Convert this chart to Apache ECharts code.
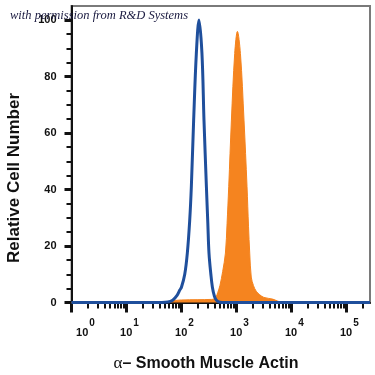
<!DOCTYPE html>
<html>
<head>
<meta charset="utf-8">
<script src="https://cdn.jsdelivr.net/npm/echarts@6/dist/echarts.min.js"></script>
<style>
  html, body { margin: 0; padding: 0; background: #fff; }
  #main { width: 375px; height: 375px; }
</style>
</head>
<body>
<div id="main"></div>
<script>
// x values are log10 of fluorescence intensity
var isoX = [0, 1.5, 1.75, 1.84, 1.92, 1.97, 2.0, 2.06, 2.107, 2.15, 2.18, 2.222, 2.271, 2.319, 2.373, 2.41, 2.454, 2.48, 2.501, 2.535, 2.563, 2.6, 2.636, 2.7, 2.8, 5.43];
var isoY = [0, 0, 0.2, 0.8, 2.5, 4.4, 5.4, 10, 17.5, 29, 41, 64.6, 88.2, 100, 88.2, 64.6, 41, 28, 17.5, 10, 5.4, 2.2, 0.8, 0.1, 0, 0];

var smaX = [0, 1.7, 1.8, 2.0, 2.3, 2.55, 2.6, 2.63, 2.66, 2.7, 2.75, 2.8, 2.83, 2.86, 2.909, 2.969, 3.018, 3.073, 3.138, 3.193, 3.22, 3.242, 3.27, 3.31, 3.36, 3.42, 3.5, 3.66, 3.75, 3.85, 5.43];
var smaY = [0, 0, 0.5, 0.9, 1.0, 1.1, 1.3, 2, 3.5, 6, 11, 17.5, 28, 41, 64.6, 88.2, 96, 88.2, 64.6, 41, 27, 17.5, 9, 6, 4, 2.8, 1.8, 1.2, 0.5, 0, 0];

var xMajor = [0, 1, 2, 3, 4, 5];
var yMajor = [0, 20, 40, 60, 80, 100];

function pairs(xs, ys) {
	var res = [];
	for (var i = 0; i < xs.length; i++) {
		res.push([xs[i], ys[i]]);
	}
	return res;
}

// log minor ticks at 2..9 of each decade
var xMinor = [];
for (var d = 0; d <= 5; d++) {
	for (var k = 2; k <= 9; k++) {
		var v = d + Math.log10(k);
		if (v <= 5.43) xMinor.push(v);
	}
}
var yMinor = [];
for (var t = 5; t < 100; t += 5) {
	if (t % 20 !== 0) yMinor.push(t);
}

var chart = echarts.init(document.getElementById('main'));
chart.setOption({
	animation: false,
	grid: {
		left: 71.5,
		right: 5,
		top: 6,
		bottom: 72.5,
		show: true,
		borderColor: '#7a7a7a',
		borderWidth: 2
	},
	xAxis: [{
		type: 'value',
		min: 0,
		max: 5.43,
		splitLine: { show: false },
		axisLine: { lineStyle: { color: '#111', width: 2 } },
		axisTick: { customValues: xMajor, length: 10, lineStyle: { color: '#111', width: 3 } },
		axisLabel: {
			customValues: xMajor,
			margin: 16,
			formatter: function (val) {
				var p = Math.round(val);
				if (p === 0) return '{f|10}{s|0}';
				return '{b|10}{s|' + p + '}';
			},
			rich: {
				b: { fontFamily: 'Liberation Sans', fontWeight: 'bold', fontSize: 11, color: '#111', lineHeight: 20, verticalAlign: 'bottom', padding: [0, 0, 0, 6] },
				f: { fontFamily: 'Liberation Sans', fontWeight: 'bold', fontSize: 11, color: '#111', lineHeight: 20, verticalAlign: 'bottom', padding: [0, 0, 0, 28] },
				s: { fontFamily: 'Liberation Sans', fontWeight: 'bold', fontSize: 10, color: '#111', lineHeight: 10, verticalAlign: 'top', padding: [0, 0, 0, 1] }
			}
		}
	}, {
		type: 'value',
		min: 0,
		max: 5.43,
		position: 'bottom',
		splitLine: { show: false },
		axisLine: { show: false },
		axisLabel: { show: false },
		axisTick: { customValues: xMinor, length: 6, lineStyle: { color: '#111', width: 2 } }
	}],
	yAxis: [{
		type: 'value',
		min: 0,
		max: 105,
		splitLine: { show: false },
		axisLine: { show: true, lineStyle: { color: '#111', width: 2 } },
		axisTick: { show: true, customValues: yMajor, length: 7, lineStyle: { color: '#111', width: 3 } },
		axisLabel: {
			customValues: yMajor,
			margin: 15,
			fontFamily: 'Liberation Sans',
			fontWeight: 'bold',
			fontSize: 11,
			color: '#111'
		}
	}, {
		type: 'value',
		min: 0,
		max: 105,
		position: 'left',
		splitLine: { show: false },
		axisLine: { show: false },
		axisLabel: { show: false },
		axisTick: { show: true, customValues: yMinor, length: 5, lineStyle: { color: '#111', width: 2 } }
	}],
	series: [{
		name: 'alpha-SMA',
		type: 'line',
		data: pairs(smaX, smaY),
		showSymbol: false,
		smooth: 0.35,
		lineStyle: { width: 1, color: '#F5841F' },
		areaStyle: { color: '#F5841F', opacity: 1 },
		z: 2
	}, {
		name: 'isotype',
		type: 'line',
		data: pairs(isoX, isoY),
		showSymbol: false,
		smooth: 0.35,
		lineStyle: { width: 3, color: '#1F4F9C' },
		z: 3
	}],
	graphic: [{
		type: 'text',
		left: 10,
		top: 9,
		z: 10,
		style: {
			text: 'with permission from R&D Systems',
			font: 'italic 12.5px "Liberation Serif"',
			fill: '#1a1a40'
		}
	}, {
		type: 'text',
		x: 14,
		y: 178,
		rotation: Math.PI / 2,
		style: {
			text: 'Relative Cell Number',
			font: 'bold 17px "Liberation Sans"',
			fill: '#111',
			align: 'center',
			verticalAlign: 'middle'
		}
	}, {
		type: 'text',
		x: 206,
		y: 364,
		style: {
			text: '{a|α}{b|– Smooth Muscle Actin}',
			align: 'center',
			verticalAlign: 'middle',
			rich: {
				a: { font: '17px "Liberation Serif"', fill: '#111' },
				b: { font: 'bold 16px "Liberation Sans"', fill: '#111' }
			}
		}
	}]
});
</script>
</body>
</html>
